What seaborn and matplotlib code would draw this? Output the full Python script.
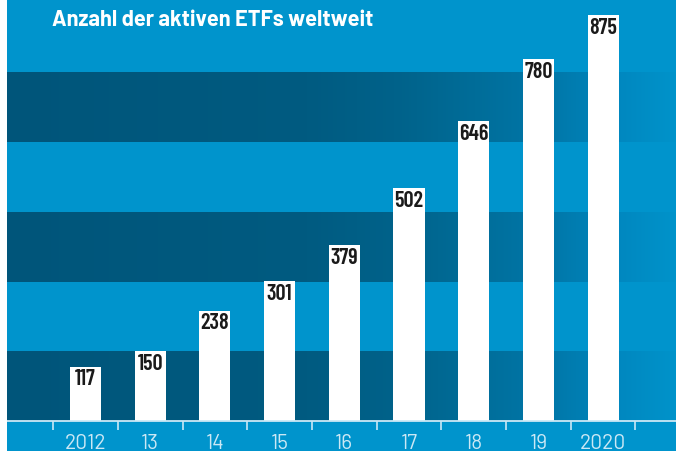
import numpy as np
import pandas as pd
import matplotlib
matplotlib.use("Agg")
import matplotlib.pyplot as plt
from matplotlib.colors import LinearSegmentedColormap
import seaborn as sns

# ---- data ----
years = ["2012", "13", "14", "15", "16", "17", "18", "19", "2020"]
counts = [117, 150, 238, 301, 379, 502, 646, 780, 875]
title = "Anzahl der aktiven ETFs weltweit"

LIGHT = "#0094cc"
TICKC = "#cbe8f5"

sns.set_theme(style="white")
plt.rcParams["font.family"] = ["Barlow", "DejaVu Sans"]

fig = plt.figure(figsize=(6.76, 4.51), dpi=100)
fig.patch.set_facecolor(LIGHT)
W, H = 676, 451
ax = fig.add_axes([7 / W, 30 / H, 1 - 7 / W, 1 - 30 / H])
ax.set_facecolor(LIGHT)

# white strip on the left edge
fig.patches.append(plt.Rectangle((0, 0), 7 / W, 1, transform=fig.transFigure,
                                 facecolor="white", edgecolor="none", zorder=10))

df = pd.DataFrame({"year": years, "count": counts})
sns.barplot(data=df, x="year", y="count", color="white", width=0.48,
            saturation=1, ax=ax, zorder=3, edgecolor="none")

xmin, xmax = -1.213, 9.127
ymax = 907

# dark bands with horizontal gradient
stops = [(0.0, "#00557a"), (0.45, "#005b81"), (0.58, "#00628a"),
         (0.70, "#006d99"), (0.82, "#0078aa"), (0.92, "#0088c0"), (1.0, "#0093ca")]
cmap = LinearSegmentedColormap.from_list("band", stops)
grad = np.linspace(0, 1, 512).reshape(1, -1)
for lo in (0, 300, 600):
    ax.imshow(grad, cmap=cmap, aspect="auto", extent=(xmin, xmax, lo, lo + 150),
              zorder=1, interpolation="bilinear")
ax.set_xlim(xmin, xmax)
ax.set_ylim(0, ymax)

# value labels
for i, v in enumerate(counts):
    ax.annotate(str(v), (i, v), xytext=(0, -2.0), textcoords="offset points",
                ha="center", va="top", fontsize=16, fontweight=600,
                family=["Barlow Condensed", "DejaVu Sans"],
                color="#1a1a1a", zorder=5)

for s in ["top", "left", "right"]:
    ax.spines[s].set_visible(False)
ax.spines["bottom"].set_color(TICKC)
ax.spines["bottom"].set_linewidth(1.3)
ax.spines["bottom"].set_zorder(6)

ax.set_yticks([])
ax.set_xticks(np.arange(-0.5, 9.0, 1.0))
ax.set_xticklabels([])
ax.set_xticks(np.arange(len(years)), minor=True)
ax.set_xticklabels(years, minor=True)
ax.tick_params(axis="x", which="major", direction="out", length=6.5, width=1.2,
               color=TICKC, bottom=True)
ax.tick_params(axis="x", which="minor", length=0, pad=9.5, labelsize=15,
               labelcolor=TICKC)
ax.set_xlabel("")
ax.set_ylabel("")

fig.text(52 / W, 1 - 26 / H, title, ha="left", va="baseline", color="white",
         fontsize=15.7, fontweight="bold", family=["Barlow", "DejaVu Sans"])

fig.savefig("out.png", dpi=100, facecolor=fig.get_facecolor())
